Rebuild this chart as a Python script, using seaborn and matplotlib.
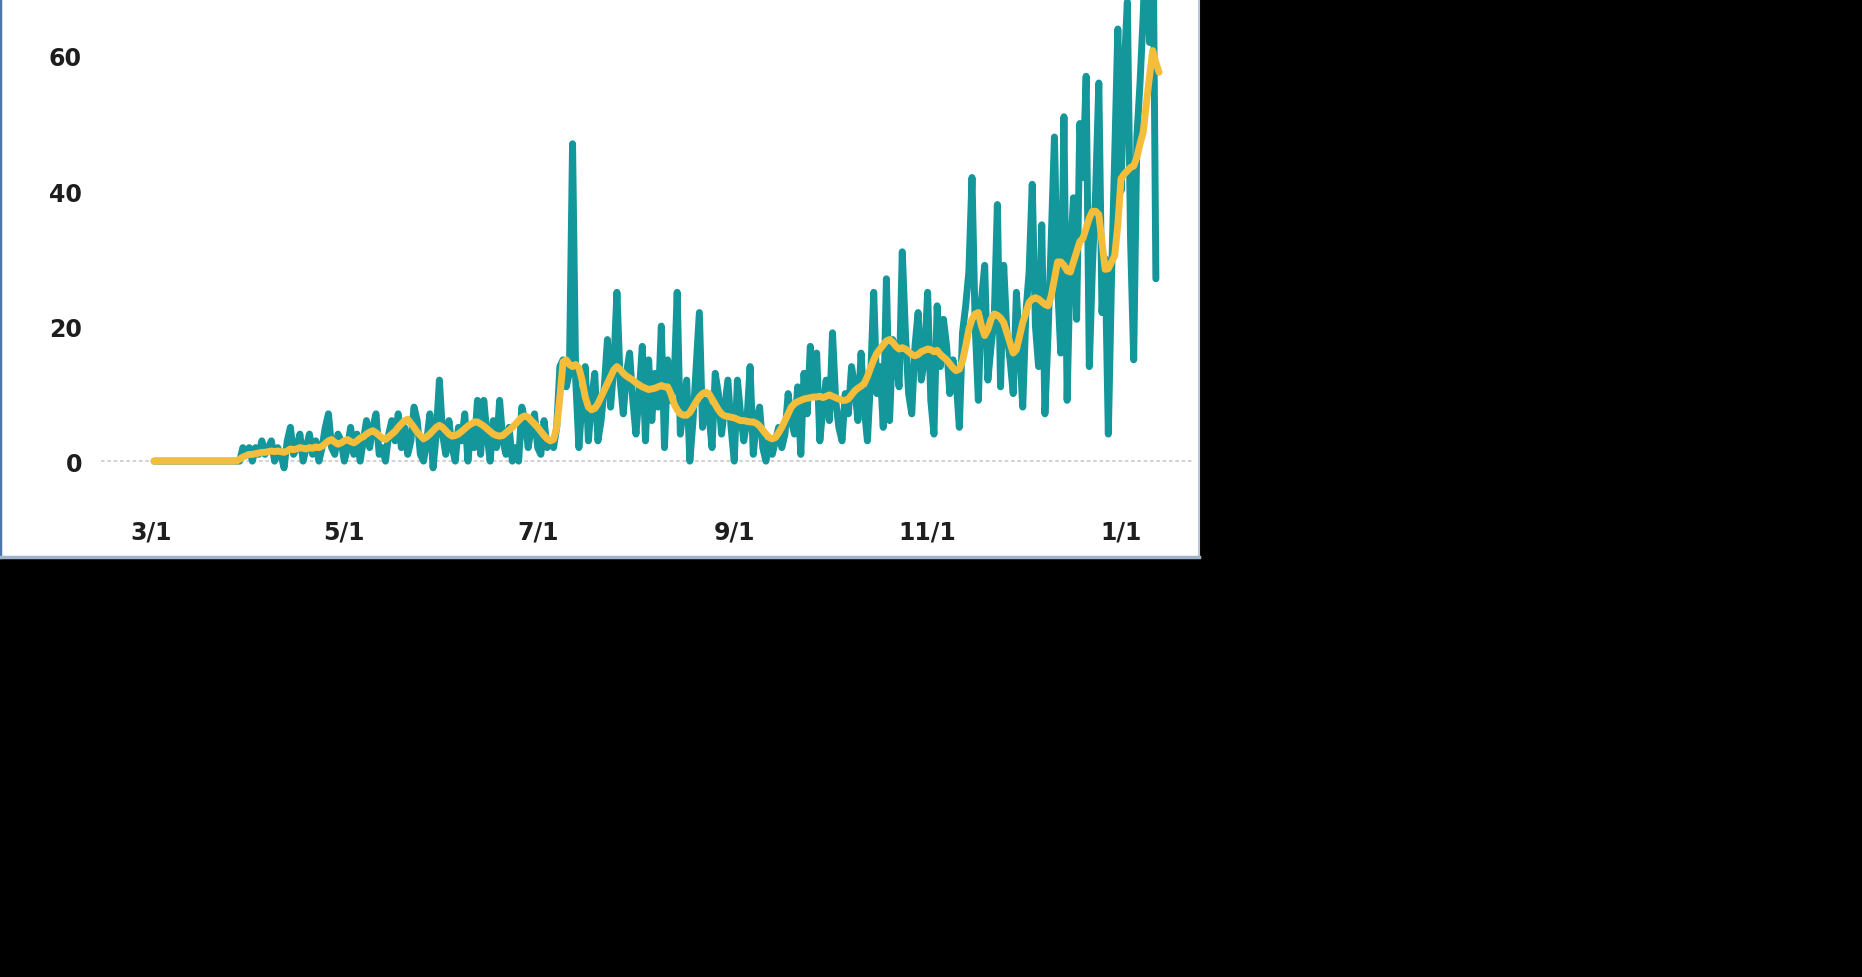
import numpy as np
import pandas as pd
import seaborn as sns
import matplotlib.pyplot as plt

# daily counts, one value per day starting 3/2/2020
daily = [0] * 27 + [
    0, 2, 1, 2, 0, 2, 1,
    3, 1, 2, 3, 0, 2, 1,
    -1, 3, 5, 1, 2, 4, 0,
    2, 4, 1, 3, 0, 2, 5,
    7, 2, 1, 4, 3, 0, 2,
    5, 1, 4, 0, 3, 6, 2,
    5, 7, 1, 2, 0, 4, 6,
    3, 7, 2, 5, 1, 3, 8,
    6, 1, 0, 3, 7, -1, 4,
    12, 4, 1, 6, 2, 0, 5,
    3, 7, 0, 5, 2, 9, 1,
    9, 4, 0, 6, 2, 9, 3,
    1, 5, 0, 2, 0, 8, 6,
    2, 5, 7, 2, 1, 6, 2,
    3, 2, 5, 14, 15, 11, 13,
    47, 12, 2, 9, 14, 3, 9,
    13, 3, 6, 11, 18, 8, 14,
    25, 12, 7, 13, 16, 9, 4,
    10, 17, 3, 15, 6, 13, 8,
    20, 2, 15, 9, 11, 25, 4,
    8, 12, 0, 6, 14, 22, 5,
    9, 7, 2, 13, 10, 4, 8,
    12, 5, 0, 12, 7, 3, 6,
    14, 1, 6, 8, 2, 0, 3,
    1, 3, 5, 2, 4, 10, 6,
    4, 11, 1, 13, 7, 17, 10,
    16, 3, 8, 12, 6, 19, 9,
    5, 3, 10, 7, 14, 11, 6,
    16, 8, 3, 12, 25, 10, 14,
    5, 27, 6, 18, 15, 11, 31,
    19, 10, 7, 17, 22, 12, 15,
    25, 9, 4, 23, 14, 21, 17,
    10, 15, 12, 5, 19, 23, 28,
    42, 20, 9, 24, 29, 12, 17,
    21, 38, 11, 29, 19, 15, 10,
    25, 17, 8, 22, 28, 41, 20,
    14, 35, 7, 19, 33, 48, 26,
    16, 51, 9, 30, 39, 21, 50,
    42, 57, 14, 29, 40, 56, 22,
    30, 4, 27, 45, 64, 40, 58,
    68, 33, 15, 48, 56, 66, 80,
    62, 85, 27,
]

# weekly average line
average = [0] * 27 + [
    0.3, 0.6, 0.8, 1.0, 1.0, 1.1, 1.2,
    1.3, 1.3, 1.4, 1.5, 1.4, 1.5, 1.4,
    1.3, 1.5, 1.8, 1.7, 1.8, 2.0, 1.9,
    1.8, 2.0, 1.9, 2.1, 2.0, 2.2, 2.6,
    3.0, 3.2, 2.8, 2.5, 2.7, 3.0, 3.2,
    2.9, 2.7, 3.0, 3.4, 3.6, 4.0, 4.3,
    4.5, 4.2, 3.8, 3.4, 3.2, 3.6, 4.0,
    4.4, 5.0, 5.5, 6.0, 6.2, 5.6, 5.0,
    4.3, 3.8, 3.3, 3.6, 4.0, 4.5, 5.0,
    5.3, 5.0, 4.5, 4.0, 3.7, 3.8, 4.0,
    4.4, 4.8, 5.2, 5.5, 5.8, 5.8, 5.5,
    5.2, 4.8, 4.4, 4.0, 3.8, 3.7, 3.8,
    4.2, 4.6, 5.0, 5.5, 6.0, 6.5, 6.7,
    6.5, 6.0, 5.5, 5.0, 4.4, 3.8, 3.3,
    3.0, 3.2, 5.0, 9.5, 14.7, 15.0, 14.3,
    14.0, 14.3, 13.8, 12.0, 9.5, 8.0, 7.6,
    7.8, 8.5, 9.5, 10.5, 11.5, 12.5, 13.5,
    14.0, 13.6, 13.0, 12.6, 12.3, 12.0, 11.6,
    11.3, 11.0, 10.8, 10.6, 10.7, 10.8, 11.0,
    11.2, 11.0, 11.0, 10.0, 8.5, 7.6, 7.0,
    6.8, 6.8, 7.2, 8.0, 8.8, 9.5, 10.0,
    10.2, 10.0, 9.2, 8.4, 7.6, 7.0, 6.7,
    6.6, 6.5, 6.4, 6.2, 6.0, 6.0, 5.9,
    5.8, 5.8, 5.6, 5.2, 4.6, 4.0, 3.5,
    3.3, 3.5, 4.2, 5.0, 6.0, 7.0, 8.0,
    8.5, 8.8, 9.0, 9.2, 9.3, 9.4, 9.5,
    9.5, 9.6, 9.4, 9.6, 9.8, 9.6, 9.4,
    9.2, 9.0, 9.0, 9.2, 9.8, 10.4, 10.8,
    11.1, 11.5, 12.5, 13.8, 15.0, 16.0, 16.6,
    17.2, 17.8, 18.0, 17.6, 17.0, 16.6, 16.8,
    16.6, 16.2, 15.8, 15.6, 15.8, 16.2, 16.4,
    16.6, 16.5, 16.2, 16.4, 15.8, 15.4, 15.0,
    14.4, 13.8, 13.4, 13.6, 14.8, 17.0, 19.5,
    21.0, 21.8, 22.0, 20.0, 18.6, 19.5, 21.0,
    21.8, 21.6, 21.2, 20.5, 19.0, 17.5, 16.0,
    16.5, 18.5, 20.5, 22.0, 23.5, 24.0, 24.2,
    24.0, 23.6, 23.2, 23.0, 24.5, 27.0, 29.5,
    29.5, 29.0, 28.2, 28.0, 29.5, 31.0, 32.5,
    33.0, 34.5, 36.0, 37.0, 37.0, 36.5, 32.5,
    28.4, 28.5, 29.5, 30.4, 35.0, 41.8, 42.5,
    43.0, 43.5, 43.7, 45.0, 47.0, 48.7, 53.0,
    57.0, 60.8, 59.0, 57.6,
]

tick_dates = ["2020-03-01", "2020-05-01", "2020-07-01",
              "2020-09-01", "2020-11-01", "2021-01-01"]
tick_labels = ["3/1", "5/1", "7/1", "9/1", "11/1", "1/1"]
y_ticks = [0, 20, 40, 60]

start = pd.Timestamp("2020-03-02")
daily_dates = pd.date_range(start, periods=len(daily), freq="D")
avg_dates = pd.date_range(start, periods=len(average), freq="D")
origin = pd.Timestamp("2020-03-01")

sns.set_style("white")
plt.rcParams['font.family'] = ['DejaVu Sans']

W, H = 1862, 978
fig = plt.figure(figsize=(W / 100, H / 100), dpi=100, facecolor="black")
ax = fig.add_axes([0, (H - 558) / H, 1199 / W, 558 / H])
ax.set_facecolor("white")

line_kw = dict(solid_capstyle="round", solid_joinstyle="round")
sns.lineplot(x=daily_dates, y=daily, ax=ax, color="#14979b", lw=5.0, **line_kw)
sns.lineplot(x=avg_dates, y=average, ax=ax, color="#f6bd3a", lw=5.0, **line_kw)

# faint dotted zero line
ax.axhline(0, xmin=101 / 1199, xmax=0.995, color="#cfcfcf", lw=1.3,
           ls=(0, (2, 1.5)), zorder=0)

ax.set_xlim(origin - pd.Timedelta(days=47.6), origin + pd.Timedelta(days=330.6))
ax.set_ylim(-14.2, 68.44)

ax.set_xticks(pd.to_datetime(tick_dates))
ax.set_xticklabels(tick_labels)
ax.set_yticks(y_ticks)
ax.set_yticklabels([str(v) for v in y_ticks])
ax.set_xlabel("")
ax.set_ylabel("")

ax.tick_params(axis="both", length=0, labelsize=17, labelcolor="#1e1e1e")
ax.tick_params(axis="y", pad=-59)
ax.tick_params(axis="x", pad=-27)
for lab in ax.get_xticklabels() + ax.get_yticklabels():
    lab.set_fontweight("bold")

ax.spines["top"].set_visible(False)
ax.spines["left"].set_color("#4a76a8")
ax.spines["left"].set_linewidth(2.5)
ax.spines["right"].set_color("#b9c9da")
ax.spines["right"].set_linewidth(1.5)
ax.spines["bottom"].set_color("#9fb4cc")
ax.spines["bottom"].set_linewidth(2.5)

plt.savefig("out.png", dpi=100, facecolor="black")
